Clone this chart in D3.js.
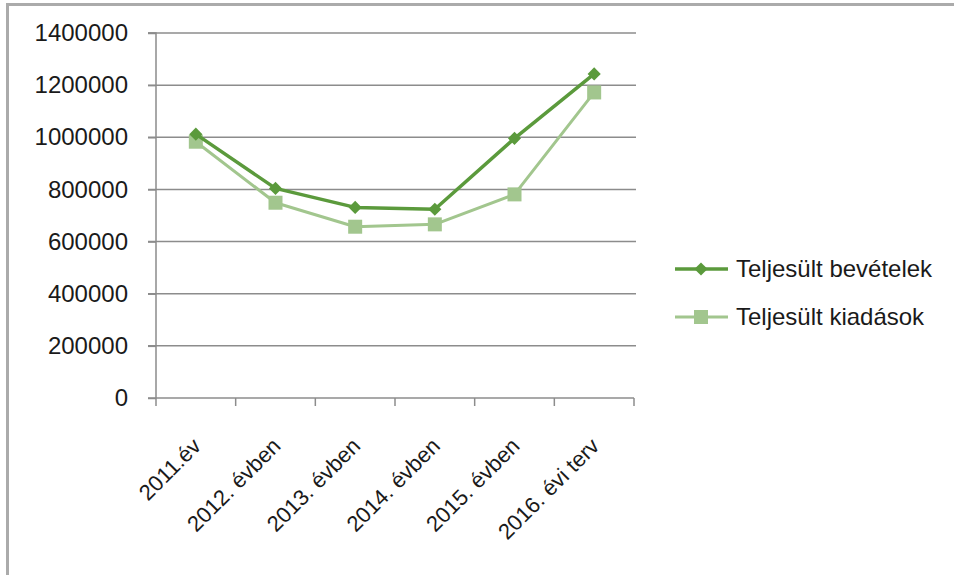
<!DOCTYPE html>
<html>
<head>
<meta charset="utf-8">
<script src="https://cdn.jsdelivr.net/npm/d3@7"></script>
<style>
  html, body { margin: 0; padding: 0; background: #fff; }
  svg { display: block; }
  text { font-family: "Liberation Sans", Arial, sans-serif; fill: #1a1a1a; }
</style>
</head>
<body>
<svg id="chart" width="954" height="575"></svg>
<script>
// Categories (years) and the two series
const categories = ["2011.év", "2012. évben", "2013. évben", "2014. évben", "2015. évben", "2016. évi terv"];
const bevetelek = [1012000, 804000, 731000, 724000, 996000, 1243000];
const kiadasok  = [983000, 749000, 657000, 666000, 781000, 1172000];
const yTicks = [0, 200000, 400000, 600000, 800000, 1000000, 1200000, 1400000];

const series = [
  { name: "Teljesült bevételek", values: bevetelek, color: "#5b9a3c", width: 3.5, marker: "diamond" },
  { name: "Teljesült kiadások",  values: kiadasok,  color: "#a2c68e", width: 3,   marker: "square" }
];

const svg = d3.select("#chart");

// Outer frame
svg.append("path")
  .attr("d", "M7.5,575 V4.5 H954")
  .attr("fill", "none")
  .attr("stroke", "#ababab")
  .attr("stroke-width", 3);

const plot = { left: 156, right: 634, top: 33, bottom: 398 };

const x = d3.scaleBand().domain(categories).range([plot.left, plot.right]);
const y = d3.scaleLinear().domain([0, 1400000]).range([plot.bottom, plot.top]);

const axisColor = "#8c8c8c";

// Horizontal gridlines
svg.append("g")
  .selectAll("line")
  .data(yTicks.filter(d => d > 0))
  .join("line")
  .attr("x1", plot.left - 8).attr("x2", plot.right + 2)
  .attr("y1", d => y(d)).attr("y2", d => y(d))
  .attr("stroke", axisColor).attr("stroke-width", 1.5);

// Y axis
const yAxis = svg.append("g")
  .attr("transform", `translate(${plot.left},0)`)
  .call(d3.axisLeft(y).tickValues(yTicks).tickFormat(d3.format("d")).tickSize(8).tickPadding(20));
yAxis.select(".domain").attr("stroke", axisColor).attr("stroke-width", 1.5)
  .attr("d", `M-8,${plot.top}H0V${plot.bottom}`);
yAxis.selectAll(".tick line").attr("stroke", axisColor).attr("stroke-width", 1.5);
yAxis.selectAll(".tick text")
  .attr("font-family", "Liberation Sans, Arial, sans-serif")
  .attr("font-size", 24).attr("fill", "#1a1a1a");

// X axis with tick marks at category boundaries
const xAxisG = svg.append("g").attr("transform", `translate(0,${plot.bottom})`);
xAxisG.append("line")
  .attr("x1", plot.left - 8).attr("x2", plot.right)
  .attr("stroke", axisColor).attr("stroke-width", 1.5);
const boundaries = categories.map(c => x(c)).concat([x(categories[categories.length - 1]) + x.bandwidth()]);
xAxisG.selectAll("line.tk")
  .data(boundaries)
  .join("line").attr("class", "tk")
  .attr("x1", d => d).attr("x2", d => d)
  .attr("y1", 0).attr("y2", 8)
  .attr("stroke", axisColor).attr("stroke-width", 1.5);

// Rotated category labels
xAxisG.selectAll("text")
  .data(categories)
  .join("text")
  .attr("transform", d => `translate(${x(d) + x.bandwidth() / 2 + 1},44) rotate(-45)`)
  .attr("text-anchor", "end")
  .attr("dy", "0.35em")
  .attr("font-size", 22)
  .text(d => d);

// Lines
const line = d3.line()
  .x((d, i) => x(categories[i]) + x.bandwidth() / 2)
  .y(d => y(d));

const diamond = d3.symbol().type(d3.symbolDiamond2).size(110);
const squareSize = 14;

function drawMarker(g, s, cx, cy) {
  if (s.marker === "diamond") {
    g.append("path")
      .attr("d", diamond())
      .attr("transform", `translate(${cx},${cy})`)
      .attr("fill", s.color);
  } else {
    g.append("rect")
      .attr("x", cx - squareSize / 2).attr("y", cy - squareSize / 2)
      .attr("width", squareSize).attr("height", squareSize)
      .attr("fill", s.color);
  }
}

// Draw the lighter series first so the darker line sits on top
[series[1], series[0]].forEach(s => {
  const g = svg.append("g");
  g.append("path")
    .datum(s.values)
    .attr("d", line)
    .attr("fill", "none")
    .attr("stroke", s.color)
    .attr("stroke-width", s.width)
    .attr("stroke-linejoin", "round");
  s.values.forEach((v, i) => drawMarker(g, s, x(categories[i]) + x.bandwidth() / 2, y(v)));
});

// Legend
const legend = svg.append("g");
series.forEach((s, i) => {
  const ly = 269 + i * 48;
  const g = legend.append("g");
  g.append("line")
    .attr("x1", 675).attr("x2", 728)
    .attr("y1", ly).attr("y2", ly)
    .attr("stroke", s.color).attr("stroke-width", s.width);
  drawMarker(g, s, 701, ly);
  g.append("text")
    .attr("x", 736).attr("y", ly)
    .attr("dy", "0.35em")
    .attr("font-size", 24)
    .text(s.name);
});
</script>
</body>
</html>
